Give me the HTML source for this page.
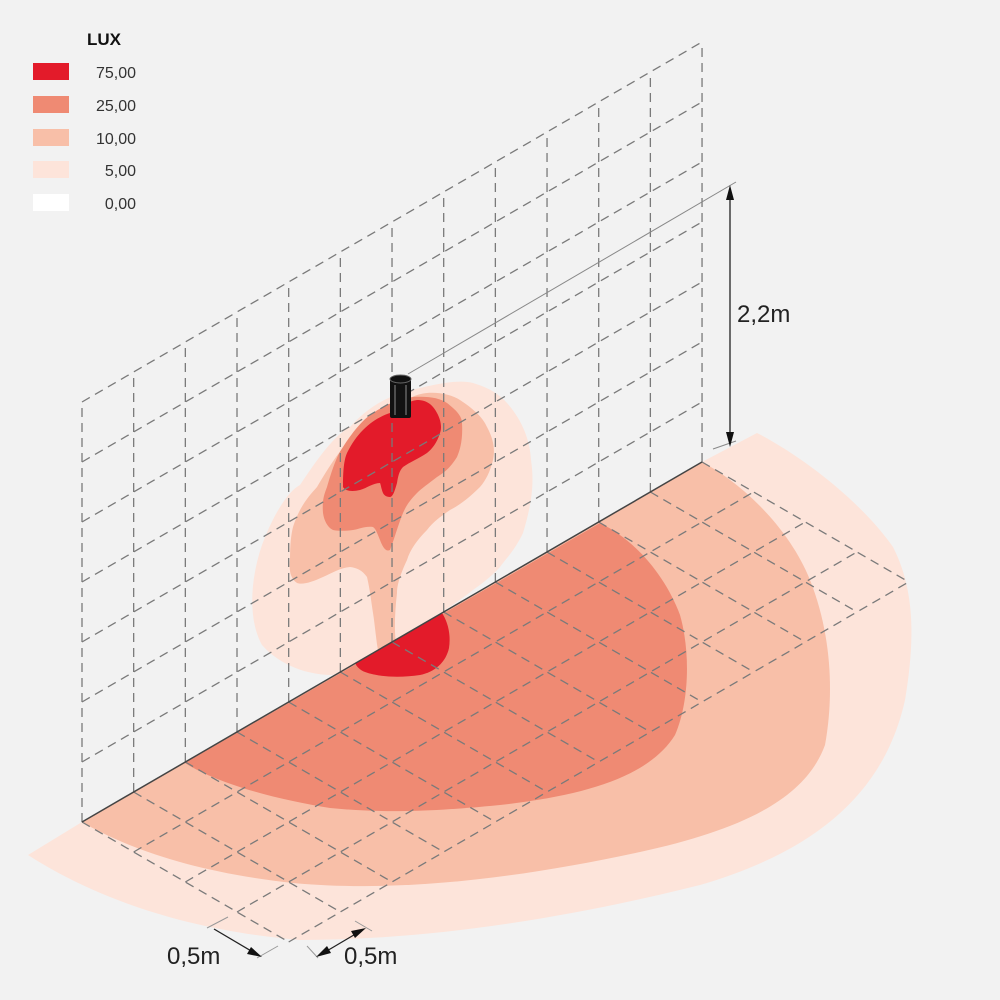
<!DOCTYPE html>
<html><head><meta charset="utf-8"><style>
html,body{margin:0;padding:0;background:#f2f2f2;}
svg{display:block;font-family:"Liberation Sans",sans-serif;}
</style></head><body>
<svg id="s" width="1000" height="1000" viewBox="0 0 1000 1000" xmlns="http://www.w3.org/2000/svg">
<rect width="1000" height="1000" fill="#f2f2f2"/>
<!-- floor shapes -->
<path fill="#fde4da" d="M82,822 L702,462 L757,433 C800,455 860,500 893,547 C915,590 915,640 905,700 C885,790 820,850 700,885 C580,915 440,940 300,940 C180,930 90,895 28,855 Z"/>
<path fill="#f8bfa8" d="M82,822 L702,462 C745,485 790,530 810,580 C830,630 835,690 825,745 C805,800 740,830 640,852 C520,878 400,893 293,883 C200,873 130,850 82,822 Z"/>
<path fill="#ef8a73" d="M185,763 L600,523 C635,540 665,575 680,615 C690,650 690,700 675,735 C650,775 590,795 500,805 C430,812 380,813 330,808 C280,800 220,785 185,763 Z"/>
<!-- wall shapes -->
<path fill="#fde4da" d="M333,675 C300,675 275,660 262,645 C248,620 250,580 262,545 C275,510 290,490 300,485 C320,455 335,435 350,427 C365,410 385,395 420,388 C445,382 462,380 473,383 C490,388 500,395 507,403 C522,420 530,440 531,460 C534,480 533,500 523,533 C515,550 505,560 500,567 C490,578 480,585 473,590 C460,600 450,607 440,613 C425,622 415,628 405,640 L333,675 Z"/>
<path fill="#f8bfa8" d="M293,527 C300,505 310,495 317,487 C330,465 340,450 350,440 C365,425 378,415 390,410 C405,400 415,394 427,393 C440,392 452,395 460,400 C475,410 483,418 487,427 C494,440 495,450 493,460 C490,472 486,480 480,487 C470,497 460,505 450,510 C440,517 433,522 427,530 C417,540 410,550 407,560 C400,575 397,585 397,593 C395,610 394,630 396,643 L378,650 C376,640 375,625 373,613 C371,600 370,590 367,577 C362,570 357,568 350,567 C340,568 332,573 323,577 C312,582 303,585 297,583 C290,578 289,570 290,560 C290,545 291,535 293,527 Z"/>
<path fill="#ef8a73" d="M323,513 C322,500 324,495 327,487 C332,470 337,455 343,447 C352,433 362,420 373,413 C386,404 400,399 413,397 C428,396 440,398 447,403 C456,410 462,416 462,423 C463,440 460,450 457,457 C450,468 445,472 437,477 C428,484 422,488 417,493 C410,500 406,506 403,513 C398,525 394,540 390,550 C386,552 383,548 380,540 C377,533 376,529 373,527 C365,526 360,529 353,530 C345,531 338,531 333,530 C327,527 324,520 323,513 Z"/>
<path fill="#e31b2a" d="M343,487 C343,470 344,460 347,453 C352,443 357,436 363,430 C372,421 381,416 390,413 C400,407 408,401 417,400 C427,400 433,405 437,413 C441,420 442,428 440,433 C437,443 432,449 427,453 C418,459 410,462 403,467 C399,471 398,477 397,483 C395,490 393,497 390,497 C386,497 384,495 383,493 C381,488 381,485 380,483 C373,483 367,488 360,490 C352,492 345,491 343,487 Z"/>
<path fill="#e31b2a" d="M355,663 L442,613 C448,622 451,635 449,648 C446,662 435,672 420,675 C400,678 378,677 365,672 C360,670 357,667 355,663 Z"/>
<g id="grid" stroke="#7a7a7a" stroke-width="1.3" stroke-dasharray="9,6" fill="none"></g>
<line x1="82" y1="822" x2="702" y2="462" stroke="#444" stroke-width="1.5"/>
<!-- lamp -->
<rect x="390" y="378" width="21" height="40" rx="2" fill="#111"/>
<ellipse cx="400.5" cy="379" rx="10.5" ry="4" fill="#111" stroke="#666" stroke-width="1"/>
<line x1="395" y1="385" x2="395" y2="415" stroke="#777" stroke-width="1.2"/>
<line x1="406" y1="385" x2="406" y2="415" stroke="#777" stroke-width="1.2"/>
<!-- dimension 2,2m -->
<line x1="408" y1="374" x2="736" y2="182" stroke="#888" stroke-width="1"/>
<line x1="713" y1="449" x2="736" y2="441" stroke="#888" stroke-width="1"/>
<line x1="730" y1="190" x2="730" y2="442" stroke="#222" stroke-width="1.3"/>
<path d="M730,185 L726,200 L734,200 Z M730,447 L726,432 L734,432 Z" fill="#111"/>
<text x="737" y="322" font-size="24" fill="#222">2,2m</text>
<!-- bottom dims -->
<g stroke="#999" stroke-width="1">
<line x1="207" y1="928" x2="228" y2="917"/>
<line x1="257" y1="958" x2="278" y2="946"/>
<line x1="307" y1="946" x2="318" y2="958"/>
<line x1="355" y1="921" x2="372" y2="931"/>
</g>
<line x1="214" y1="929" x2="258" y2="955" stroke="#222" stroke-width="1.3"/>
<path d="M262,957 L247,954 L251,947 Z" fill="#111"/>
<line x1="320" y1="955" x2="364" y2="929" stroke="#222" stroke-width="1.3"/>
<path d="M316,957 L327,946 L331,953 Z M366,928 L351,931 L355,938 Z" fill="#111"/>
<text x="167" y="964" font-size="24" fill="#222">0,5m</text>
<text x="344" y="964" font-size="24" fill="#222">0,5m</text>
<!-- legend -->
<text x="87" y="45" font-size="17" font-weight="bold" fill="#111">LUX</text>
<rect x="33" y="63" width="36" height="17" fill="#e31b2a"/>
<rect x="33" y="96" width="36" height="17" fill="#ef8a73"/>
<rect x="33" y="129" width="36" height="17" fill="#f8bfa8"/>
<rect x="33" y="161" width="36" height="17" fill="#fde4da"/>
<rect x="33" y="194" width="36" height="17" fill="#ffffff"/>
<g font-size="16" fill="#333" text-anchor="end">
<text x="136" y="78">75,00</text>
<text x="136" y="111">25,00</text>
<text x="136" y="144">10,00</text>
<text x="136" y="176">5,00</text>
<text x="136" y="209">0,00</text>
</g>
</svg>
<script>
var g=document.getElementById('grid'),ns='http://www.w3.org/2000/svg';
function L(a,b,c,d){var l=document.createElementNS(ns,'line');l.setAttribute('x1',a);l.setAttribute('y1',b);l.setAttribute('x2',c);l.setAttribute('y2',d);g.appendChild(l);}
var ux=51.67,uy=-30,vx=51.67,vy=30,h=60;
for(var i=0;i<=12;i++){var x=82+ux*i,y=822+uy*i;L(x,y,x,y-7*h);L(x,y,x+4*vx,y+4*vy);}
for(var j=1;j<=7;j++){L(82,822-j*h,702,462-j*h);}
for(var k=1;k<=4;k++){L(82+k*vx,822+k*vy,702+k*vx,462+k*vy);}
</script>
</body></html>
